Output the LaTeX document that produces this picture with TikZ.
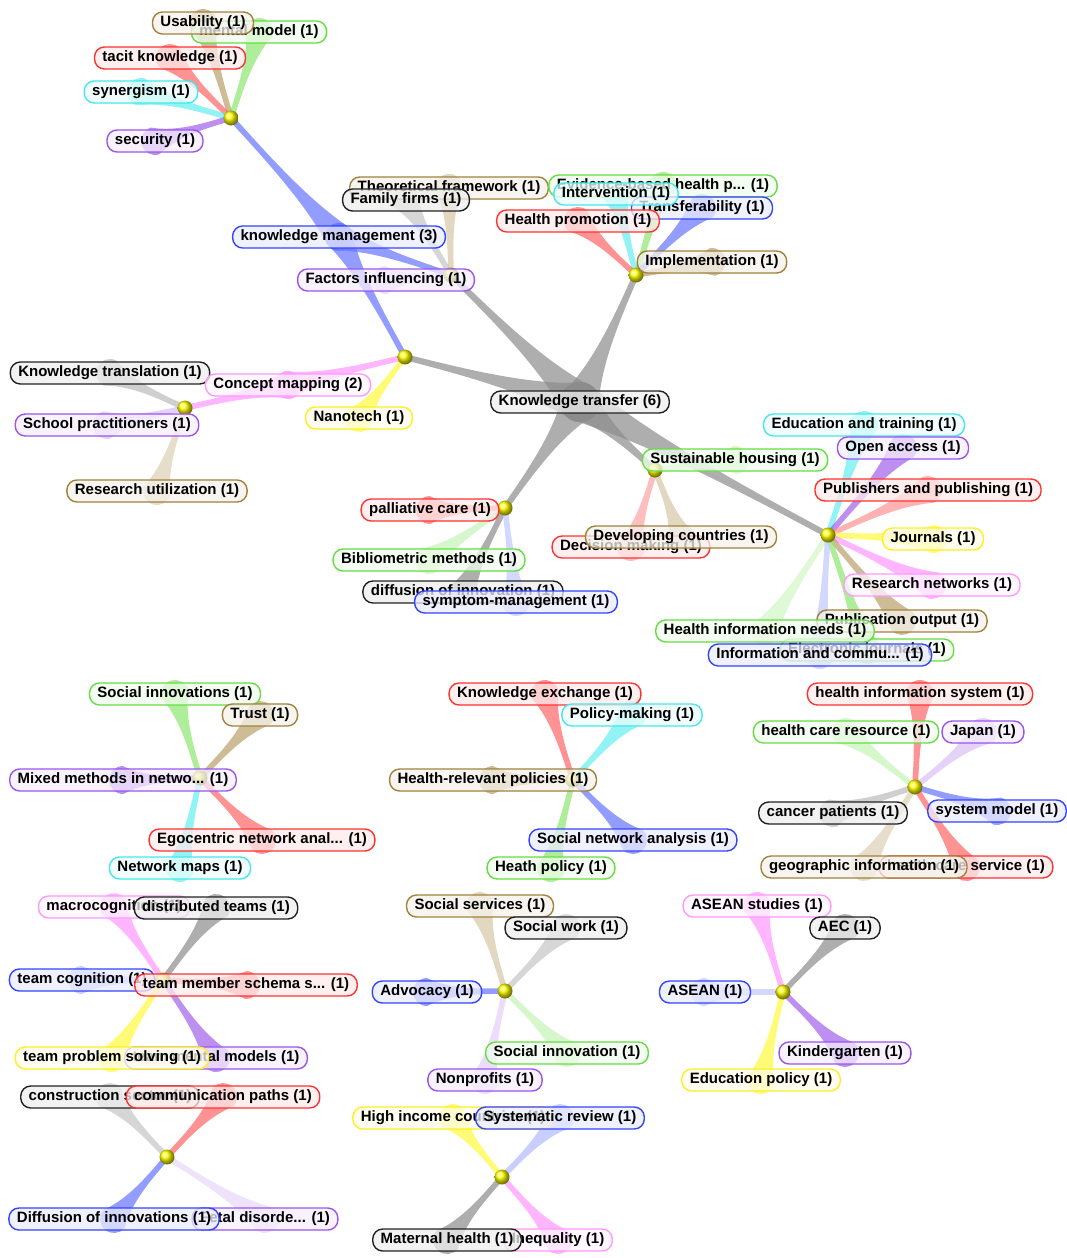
\documentclass[tikz,border=0pt]{standalone}
\usepackage{fontspec}
\newfontfamily\termfamily{Liberation Sans}
\usetikzlibrary{calc}

\definecolor{bRed}{RGB}{255,50,50}
\definecolor{bGreen}{RGB}{102,221,68}
\definecolor{bBlue}{RGB}{51,68,255}
\definecolor{bCyan}{RGB}{68,232,238}
\definecolor{bPurple}{RGB}{153,85,238}
\definecolor{bOlive}{RGB}{160,130,60}
\definecolor{bBlack}{RGB}{34,34,34}
\definecolor{bYellow}{RGB}{255,238,34}
\definecolor{bPink}{RGB}{255,153,255}
\definecolor{pRed}{RGB}{255,100,100}
\definecolor{pGreen}{RGB}{140,230,110}
\definecolor{pBlue}{RGB}{100,115,255}
\definecolor{pCyan}{RGB}{100,238,240}
\definecolor{pPurple}{RGB}{160,95,235}
\definecolor{pOlive}{RGB}{185,160,105}
\definecolor{pGray}{RGB}{140,140,140}
\definecolor{pYellow}{RGB}{255,250,60}
\definecolor{pPink}{RGB}{255,150,255}

\pgfdeclarelayer{petals}
\pgfsetlayers{petals,main}

\newcommand{\termfont}{\termfamily\bfseries\fontsize{15}{17}\selectfont}

% tapered strand from a hub to a term, round blob at the term end
\newcommand{\petal}[4][14]{%
  \pgfmathsetmacro\neckA{0.15*#1}\pgfmathsetmacro\neckB{0.3*#1}%
  \fill[fill=#4, fill opacity=0.7] let \p1=($(#3)-(#2)$), \n1={atan2(\y1,\x1)} in
    ($(#2)!3pt!90:(#3)$)
    .. controls ($(#2)!0.45!(#3)!\neckA pt!90:(#3)$) and ($(#2)!0.75!(#3)!\neckB pt!90:(#3)$)
    .. ($(#3)!#1pt!-90:(#2)$)
    arc[start angle=\n1+90, end angle=\n1-90, radius=#1pt]
    .. controls ($(#2)!0.75!(#3)!\neckB pt!-90:(#3)$) and ($(#2)!0.45!(#3)!\neckA pt!-90:(#3)$)
    .. ($(#2)!3pt!-90:(#3)$) -- cycle;}

\begin{document}
\begin{tikzpicture}
	[x=1pt, y=-1pt,
	term/.style={rounded corners=10pt, line width=1.4pt, inner xsep=8pt, inner ysep=0pt, minimum height=22pt, font=\termfont, text=black, fill opacity=0.75, text opacity=1},
	redterm/.style={term, draw=bRed, fill=bRed!10},
	greenterm/.style={term, draw=bGreen, fill=bGreen!10},
	blueterm/.style={term, draw=bBlue, fill=bBlue!10},
	cyanterm/.style={term, draw=bCyan, fill=bCyan!10},
	purpleterm/.style={term, draw=bPurple, fill=bPurple!10},
	oliveterm/.style={term, draw=bOlive, fill=bOlive!10},
	blackterm/.style={term, draw=bBlack, fill=bBlack!8},
	yellowterm/.style={term, draw=bYellow, fill=bYellow!10},
	pinkterm/.style={term, draw=bPink, fill=bPink!10},
	hub/.style={circle, inner sep=0pt, minimum size=15pt, ball color=yellow}]

\useasboundingbox (0,0) rectangle (1067,1258);

% hubs
\node [hub] (hA) at (231,118) {};
\node [hub] (hB) at (451,275) {};
\node [hub] (hC) at (405,357) {};
\node [hub] (hD) at (185,408) {};
\node [hub] (hE) at (636,275) {};
\node [hub] (hF) at (505,508) {};
\node [hub] (hG) at (655,470) {};
\node [hub] (hH) at (828,535) {};
\node [hub] (hI) at (200,778) {};
\node [hub] (hJ) at (573,780) {};
\node [hub] (hK) at (915,787) {};
\node [hub] (hL) at (163,980) {};
\node [hub] (hM) at (167,1157) {};
\node [hub] (hN) at (505,991) {};
\node [hub] (hO) at (502,1177) {};
\node [hub] (hP) at (783,992) {};

% knowledge transfer network
\node [greenterm] (mental) at (259,32) {mental model (1)};
\node [oliveterm] (usab) at (203,23) {Usability (1)};
\node [redterm] (tacit) at (170,58) {tacit knowledge (1)};
\node [cyanterm] (syner) at (141,92) {synergism (1)};
\node [purpleterm] (secur) at (155,141) {security (1)};
\node [oliveterm] (theory) at (449,188) {Theoretical framework (1)};
\node [blackterm] (family) at (406,200) {Family firms (1)};
\node [blueterm] (kmgmt) at (339,237) {knowledge management (3)};
\node [purpleterm] (factors) at (386,280) {Factors influencing (1)};
\node [blackterm] (ktrans) at (110,373) {Knowledge translation (1)};
\node [pinkterm] (cmap) at (288,385) {Concept mapping (2)};
\node [yellowterm] (nano) at (359,418) {Nanotech (1)};
\node [purpleterm] (school) at (107,425) {School practitioners (1)};
\node [oliveterm] (rutil) at (157,491) {Research utilization (1)};
\node [blackterm] (kt) at (580,402) {Knowledge transfer (6)};

\node [greenterm] (evid) at (663,186) {Evidence-based health p... (1)};
\node [blueterm] (transf) at (702,208) {Transferability (1)};
\node [cyanterm] (interv) at (616,194) {Intervention (1)};
\node [redterm] (hprom) at (578,221) {Health promotion (1)};
\node [oliveterm] (implem) at (712,262) {Implementation (1)};

\node [redterm] (palli) at (430,510) {palliative care (1)};
\node [greenterm] (biblio) at (429,560) {Bibliometric methods (1)};
\node [blackterm] (diffin) at (463,592) {diffusion of innovation (1)};
\node [blueterm] (sympt) at (516,602) {symptom-management (1)};

\node [greenterm] (housing) at (735,460) {Sustainable housing (1)};
\node [redterm] (decis) at (631,547) {Decision making (1)};
\node [oliveterm] (develop) at (681,537) {Developing countries (1)};

\node [cyanterm] (educ) at (864,425) {Education and training (1)};
\node [purpleterm] (open) at (903,448) {Open access (1)};
\node [redterm] (publish) at (928,490) {Publishers and publishing (1)};
\node [yellowterm] (journ) at (933,539) {Journals (1)};
\node [pinkterm] (rnet) at (932,585) {Research networks (1)};
\node [oliveterm] (puboutput) at (902,621) {Publication output (1)};
\node [greenterm] (ejourn) at (867,650) {Electronic journals (1)};
\node [greenterm] (hineeds) at (765,631) {Health information needs (1)};
\node [blueterm] (infocom) at (820,655) {Information and commu... (1)};

% separate components
\node [greenterm] (socinnos) at (175,694) {Social innovations (1)};
\node [oliveterm] (trust) at (260,715) {Trust (1)};
\node [purpleterm] (mixed) at (123,780) {Mixed methods in netwo... (1)};
\node [redterm] (egocen) at (262,840) {Egocentric network anal... (1)};
\node [cyanterm] (netmaps) at (180,868) {Network maps (1)};

\node [redterm] (kexch) at (545,694) {Knowledge exchange (1)};
\node [cyanterm] (polmak) at (632,715) {Policy-making (1)};
\node [oliveterm] (hrelev) at (493,780) {Health-relevant policies (1)};
\node [blueterm] (sna) at (633,840) {Social network analysis (1)};
\node [greenterm] (heath) at (551,868) {Heath policy (1)};

\node [redterm] (hisys) at (920,694) {health information system (1)};
\node [greenterm] (hcres) at (846,732) {health care resource (1)};
\node [purpleterm] (japan) at (983,732) {Japan (1)};
\node [blackterm] (cancer) at (833,813) {cancer patients (1)};
\node [blueterm] (sysmod) at (997,811) {system model (1)};
\node [redterm] (hcserv) at (966,867) {health care service (1)};
\node [oliveterm] (geoinf) at (864,867) {geographic information (1)};

\node [pinkterm] (macro) at (114,907) {macrocognition (1)};
\node [blackterm] (distrib) at (216,908) {distributed teams (1)};
\node [blueterm] (tcogn) at (82,980) {team cognition (1)};
\node [redterm] (tschema) at (246,985) {team member schema s... (1)};
\node [purpleterm] (tmental) at (216,1058) {team mental models (1)};
\node [yellowterm] (tprob) at (112,1058) {team problem solving (1)};

\node [blackterm] (constr) at (110,1097) {construction sector (1)};
\node [redterm] (commpath) at (223,1097) {communication paths (1)};
\node [purpleterm] (fetal) at (265,1219) {Fetal disorde... (1)};
\node [blueterm] (diffinn) at (114,1219) {Diffusion of innovations (1)};

\node [oliveterm] (socserv) at (480,906) {Social services (1)};
\node [blackterm] (socwork) at (566,928) {Social work (1)};
\node [blueterm] (advoc) at (427,992) {Advocacy (1)};
\node [greenterm] (socinno) at (567,1053) {Social innovation (1)};
\node [purpleterm] (nonprof) at (485,1080) {Nonprofits (1)};

\node [yellowterm] (highinc) at (453,1118) {High income countries (1)};
\node [blueterm] (sysrev) at (560,1118) {Systematic review (1)};
\node [pinkterm] (inequal) at (558,1240) {Inequality (1)};
\node [blackterm] (matern) at (447,1240) {Maternal health (1)};

\node [pinkterm] (aseanst) at (757,906) {ASEAN studies (1)};
\node [blackterm] (aec) at (845,928) {AEC (1)};
\node [blueterm] (asean) at (705,992) {ASEAN (1)};
\node [purpleterm] (kinder) at (845,1053) {Kindergarten (1)};
\node [yellowterm] (edpol) at (761,1080) {Education policy (1)};

\begin{pgfonlayer}{petals}
\foreach \h in {hB,hC,hE,hF,hG,hH} \petal[20]{\h}{kt}{pGray};
\foreach \t/\c in {usab/pOlive, mental/pGreen, tacit/pRed, syner/pCyan, secur/pPurple, kmgmt/pBlue} \petal{hA}{\t}{\c};
\foreach \t/\c in {theory/pOlive!60, family/pGray!50, factors/pPurple!30, kmgmt/pBlue} \petal{hB}{\t}{\c};
\foreach \t/\c in {nano/pYellow, cmap/pPink, kmgmt/pBlue} \petal{hC}{\t}{\c};
\foreach \t/\c in {ktrans/pGray!60, school/pPurple!40, rutil/pOlive!50, cmap/pPink} \petal{hD}{\t}{\c};
\foreach \t/\c in {evid/pGreen, interv/pCyan, transf/pBlue, hprom/pRed, implem/pOlive} \petal{hE}{\t}{\c};
\foreach \t/\c in {palli/pRed, biblio/pGreen!50, diffin/pGray, sympt/pBlue!40} \petal{hF}{\t}{\c};
\foreach \t/\c in {housing/pGreen!50, decis/pRed!60, develop/pOlive!60} \petal{hG}{\t}{\c};
\foreach \t/\c in {educ/pCyan, open/pPurple, publish/pRed!70, journ/pYellow, rnet/pPink, puboutput/pOlive, ejourn/pGreen, hineeds/pGreen!40, infocom/pBlue!40} \petal{hH}{\t}{\c};
\foreach \t/\c in {socinnos/pGreen, trust/pOlive, mixed/pPurple, egocen/pRed, netmaps/pCyan} \petal{hI}{\t}{\c};
\foreach \t/\c in {kexch/pRed, polmak/pCyan, hrelev/pOlive, sna/pBlue, heath/pGreen} \petal{hJ}{\t}{\c};
\foreach \t/\c in {hisys/pRed, hcres/pGreen!50, japan/pPurple!40, cancer/pGray!60, sysmod/pBlue, hcserv/pRed, geoinf/pOlive!50} \petal{hK}{\t}{\c};
\foreach \t/\c in {macro/pPink, distrib/pGray, tcogn/pBlue!50, tschema/pRed, tmental/pPurple, tprob/pYellow} \petal{hL}{\t}{\c};
\foreach \t/\c in {constr/pGray!50, commpath/pRed, diffinn/pBlue, fetal/pPurple!25} \petal{hM}{\t}{\c};
\foreach \t/\c in {socserv/pOlive!60, socwork/pGray!50, advoc/pBlue, socinno/pGreen!50, nonprof/pPurple!30} \petal{hN}{\t}{\c};
\foreach \t/\c in {highinc/pYellow, sysrev/pBlue!50, matern/pGray, inequal/pPink} \petal{hO}{\t}{\c};
\foreach \t/\c in {aseanst/pPink, aec/pGray, asean/pBlue!40, kinder/pPurple, edpol/pYellow} \petal{hP}{\t}{\c};
\end{pgfonlayer}

\end{tikzpicture}
\end{document}
